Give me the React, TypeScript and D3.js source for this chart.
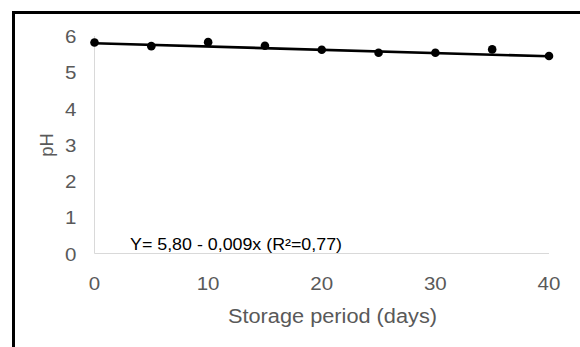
import React from "react";
import * as d3 from "d3";

// Storage-period sampling days and measured pH
const days = [0, 5, 10, 15, 20, 25, 30, 35, 40];
const phValues = [5.82, 5.72, 5.83, 5.73, 5.62, 5.54, 5.54, 5.63, 5.45];

// Fitted linear trend: Y = a + b·x
const intercept = 5.8;
const slope = -0.009;

const xTicks = [0, 10, 20, 30, 40];
const yTicks = [0, 1, 2, 3, 4, 5, 6];

const equationLabel = "Y= 5,80 - 0,009x (R²=0,77)";
const xTitle = "Storage period (days)";
const yTitle = "pH";

const W = 580;
const H = 347;
const FONT = "'Liberation Sans', Arial, sans-serif";
const GREY = "#595959";

export default function App() {
  const x = d3.scaleLinear().domain([0, 40]).range([94.5, 549]);
  const y = d3.scaleLinear().domain([0, 6]).range([253.5, 36]);

  const fitLine = d3
    .line<number>()
    .x((d) => x(d))
    .y((d) => y(intercept + slope * d));

  return (
    <svg
      width={W}
      height={H}
      style={{ position: "absolute", left: 0, top: 0, background: "#fff" }}
      fontFamily={FONT}
    >
      {/* frame lines */}
      <path d={`M13.5,${H} V12.5 H${W}`} fill="none" stroke="#000" strokeWidth={3} />

      {/* axes */}
      <line x1={x(0)} x2={x(0)} y1={y(6)} y2={y(0)} stroke="#d9d9d9" strokeWidth={1} />
      <line x1={x(0)} x2={x(40)} y1={y(0)} y2={y(0)} stroke="#d9d9d9" strokeWidth={1} />

      {/* y tick labels */}
      {yTicks.map((t) => (
        <text
          key={t}
          transform={`translate(76.5,${y(t) + 7}) scale(1.08,1)`}
          textAnchor="end"
          fontSize={19}
          fill={GREY}
        >
          {t}
        </text>
      ))}

      {/* x tick labels */}
      {xTicks.map((t) => (
        <text
          key={t}
          transform={`translate(${x(t)},290) scale(1.08,1)`}
          textAnchor="middle"
          fontSize={19}
          fill={GREY}
        >
          {t}
        </text>
      ))}

      {/* axis titles */}
      <text
        x={228}
        y={323}
        fontSize={19.5}
        fill={GREY}
        textLength={209}
        lengthAdjust="spacingAndGlyphs"
      >
        {xTitle}
      </text>
      <text
        transform={`translate(53,145) rotate(-90)`}
        textAnchor="middle"
        fontSize={18.5}
        fill={GREY}
      >
        {yTitle}
      </text>

      {/* regression line */}
      <path d={fitLine([0, 40]) ?? ""} fill="none" stroke="#000" strokeWidth={2.6} />

      {/* observations */}
      {days.map((d, i) => (
        <circle key={d} cx={x(d)} cy={y(phValues[i])} r={4.3} fill="#000" />
      ))}

      {/* equation */}
      <text
        x={130}
        y={249.5}
        fontSize={16.5}
        fill="#000"
        textLength={212}
        lengthAdjust="spacingAndGlyphs"
      >
        {equationLabel}
      </text>
    </svg>
  );
}
